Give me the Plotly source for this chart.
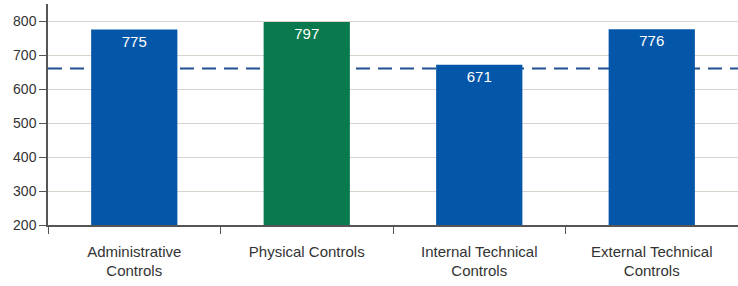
import plotly.graph_objects as go

categories = ["Administrative<br>Controls", "Physical Controls", "Internal Technical<br>Controls", "External Technical<br>Controls"]
values = [775, 797, 671, 776]
bar_colors = ["#0457A8", "#0A7A4E", "#0457A8", "#0457A8"]
reference_value = 660
y_ticks = [200, 300, 400, 500, 600, 700, 800]

fig = go.Figure()
fig.add_trace(go.Bar(
    x=categories, y=values, marker=dict(color=bar_colors, line=dict(width=0)),
    text=[str(v) for v in values], textposition="inside", insidetextanchor="end",
    textfont=dict(color="white", size=15, family="Liberation Sans, Arial, sans-serif"),
    width=0.5,
))
fig.add_shape(type="line", xref="paper", x0=0, x1=1, yref="y", y0=reference_value, y1=reference_value,
              line=dict(color="#1F4F8F", width=2, dash="14px,8px"), layer="below")

font_family = "Liberation Sans, Arial, sans-serif"
fig.update_layout(
    width=738, height=286, margin=dict(l=48, r=0, t=4, b=61),
    plot_bgcolor="white", paper_bgcolor="white", showlegend=False,
    font=dict(family=font_family, size=14, color="#333333"),
    xaxis=dict(range=[-0.5, 3.5], showline=True, linecolor="#555555", linewidth=1.5,
               ticks="outside", tickson="boundaries", ticklen=7, tickcolor="#555555",
               showgrid=False, tickfont=dict(family=font_family, size=15, color="#333333"),
               automargin=False, ticklabelstandoff=12),
    yaxis=dict(range=[200, 850], tickvals=y_ticks, showline=True, linecolor="#555555", linewidth=1.5,
               ticks="outside", ticklen=7, tickcolor="#555555", gridcolor="#D8D3CC",
               zeroline=False, automargin=False,
               tickfont=dict(family=font_family, size=14, color="#333333")),
)
fig.write_html("out.html", config={"displayModeBar": False},
               post_script="document.body.style.margin='0';document.body.style.overflow='hidden';")
